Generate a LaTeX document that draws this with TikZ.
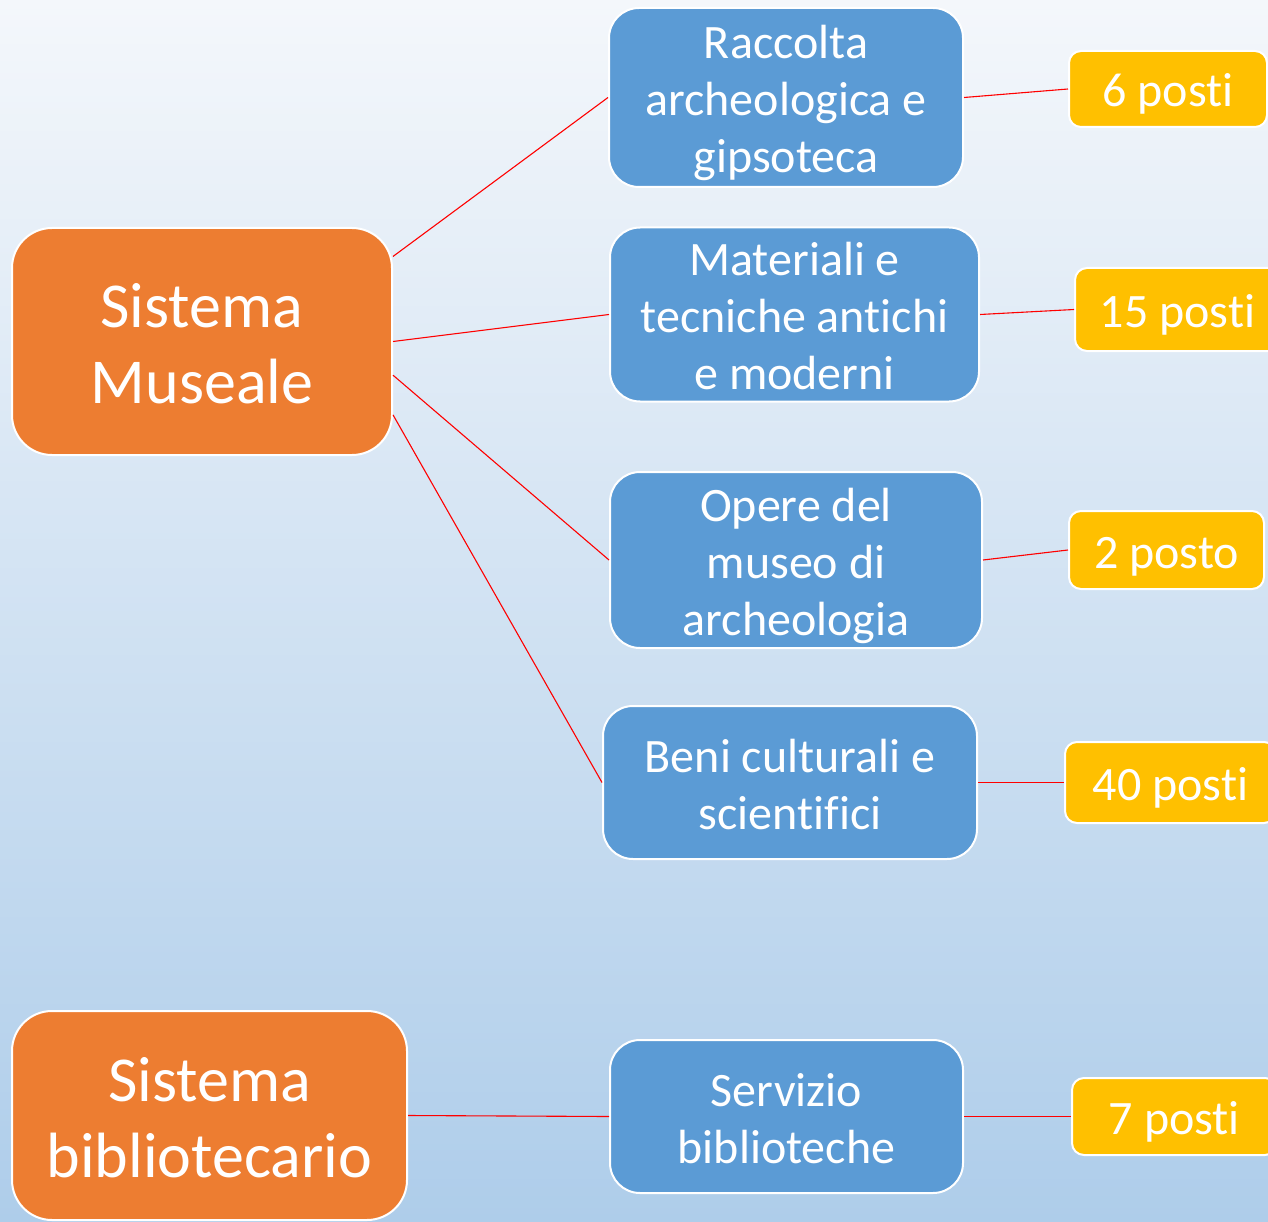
\documentclass[tikz,border=0pt]{standalone}
\usepackage{fontspec}
\setmainfont{Carlito}[Ligatures=NoCommon]
\definecolor{bgtop}{HTML}{F4F7FB}
\definecolor{bgbot}{HTML}{AECDEA}
\definecolor{orangebox}{HTML}{ED7D31}
\definecolor{bluebox}{HTML}{5B9BD5}
\definecolor{yellowbox}{HTML}{FFC000}
\definecolor{linkred}{HTML}{FF0000}
\newcommand\tstrut{\rule{0pt}{1.0em}}
\newcommand\bstrut{\rule[-0.25em]{0pt}{0pt}}
\begin{document}
\begin{tikzpicture}[x=1pt,y=-1pt,
  box/.style={draw=white, line width=2pt, text=white, align=center, inner sep=0pt},
  mainbox/.style={box, fill=orangebox, rounded corners=40pt, font=\fontsize{64}{76}\selectfont},
  subbox/.style={box, fill=bluebox, rounded corners=30pt, font=\fontsize{48}{57}\selectfont},
  postbox/.style={box, fill=yellowbox, rounded corners=12pt, font=\fontsize{48}{57}\selectfont},
  link/.style={draw=linkred, line width=1.1pt}]
\useasboundingbox (0,0) rectangle (1268,1222);
\shade[top color=bgtop, bottom color=bgbot] (0,0) rectangle (1268,1222);

\node[mainbox, minimum width=380pt, minimum height=227pt] (mus) at (202,341.5) {\tstrut Sistema\\Museale\bstrut};
\node[mainbox, minimum width=395pt, minimum height=209pt] (bib) at (209.5,1115.5) {\tstrut Sistema\\bibliotecario\bstrut};

\node[subbox, minimum width=354pt, minimum height=179pt] (racc) at (786,97.5) {\tstrut Raccolta\\archeologica e\\gipsoteca\bstrut};
\node[subbox, minimum width=369pt, minimum height=173pt] (mat) at (794.5,314.5) {\tstrut Materiali e\\tecniche antichi\\e moderni\bstrut};
\node[subbox, minimum width=372pt, minimum height=176pt] (op) at (796,560) {\tstrut Opere del\\museo di\\archeologia\bstrut};
\node[subbox, minimum width=374pt, minimum height=153pt] (beni) at (790,782.5) {\tstrut Beni culturali e\\scientifici\bstrut};
\node[subbox, minimum width=353pt, minimum height=153pt] (serv) at (786.5,1116.5) {\tstrut Servizio\\biblioteche\bstrut};

\node[postbox, minimum width=198pt, minimum height=76pt] (p6) at (1168,89) {\tstrut 6 posti\bstrut};
\node[postbox, minimum width=205pt, minimum height=83pt] (p15) at (1177.5,309.5) {\tstrut 15 posti\bstrut};
\node[postbox, minimum width=195pt, minimum height=78pt] (p2) at (1166.5,550) {\tstrut 2 posto\bstrut};
\node[postbox, minimum width=211pt, minimum height=81pt] (p40) at (1170.5,782.5) {\tstrut 40 posti\bstrut};
\node[postbox, minimum width=205pt, minimum height=77pt] (p7) at (1174.5,1116.5) {\tstrut 7 posti\bstrut};

\draw[link] (mus.24.7) -- (racc.west);
\draw[link] (mus.east) -- (mat.west);
\draw[link] (mus.-10.3) -- (op.west);
\draw[link] (mus.-21.9) -- (beni.west);
\draw[link] (bib.east) -- (serv.west);
\draw[link] (racc.east) -- (p6.west);
\draw[link] (mat.east) -- (p15.west);
\draw[link] (op.east) -- (p2.west);
\draw[link] (beni.east) -- (p40.west);
\draw[link] (serv.east) -- (p7.west);
\end{tikzpicture}
\end{document}
